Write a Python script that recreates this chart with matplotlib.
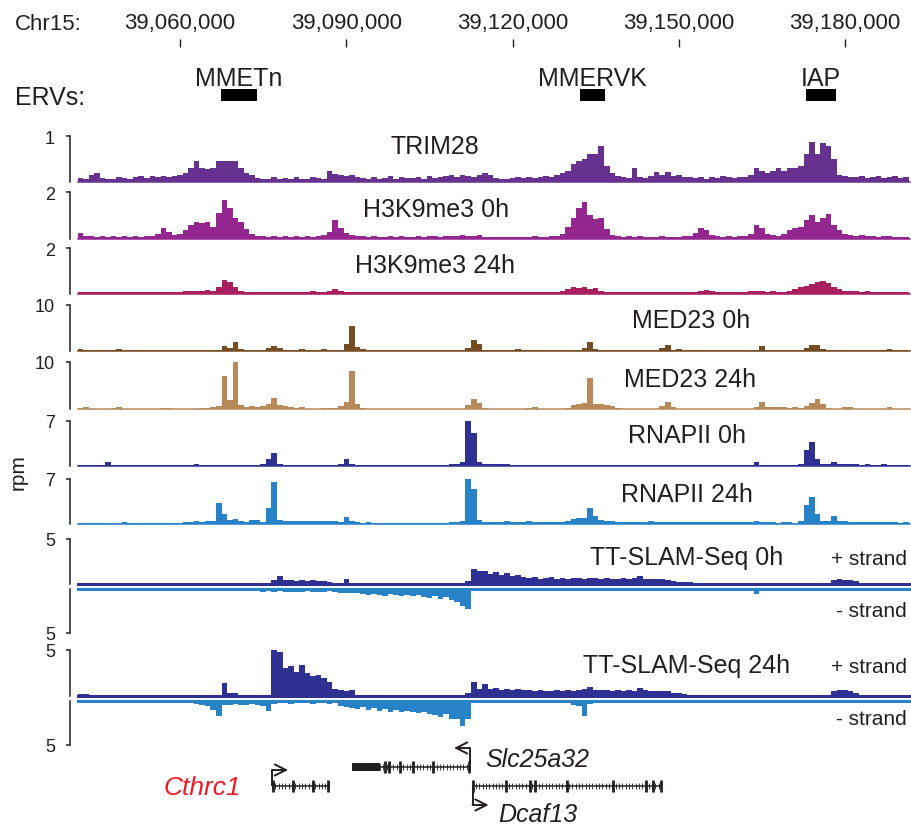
import matplotlib

matplotlib.use("Agg")
import matplotlib.pyplot as plt
import numpy as np

plt.rcParams["font.family"] = ["Liberation Sans", "DejaVu Sans"]

W, H = 911, 828
PX = 72 / 100  # points per pixel at dpi 100
TEXT = "#231f20"

# Chr15 window shown and the 1 kb signal bins
XLIM = (39_041_600, 39_191_700)
BIN_START = 39_041_500
BIN_SIZE = 1_000
COORD_TICKS = [39_060_000, 39_090_000, 39_120_000, 39_150_000, 39_180_000]

ERV_NAMES = ["MMETn", "MMERVK", "IAP"]
ERV_STARTS = [39_067_400, 39_132_200, 39_173_000]
ERV_ENDS = [39_073_900, 39_136_700, 39_178_400]

# signal in rpm, one value per 1 kb bin (150 bins)
TRIM28 = [
    .08, .06, .15, .2, .08, .07, .06, .1, .08, .06,
    .1, .12, .08, .13, .1, .12, .1, .12, .15, .2,
    .3, .45, .3, .28, .3, .45, .46, .45, .45, .3,
    .2, .15, .08, .07, .06, .1, .07, .08, .06, .1,
    .07, .06, .1, .08, .07, .25, .18, .15, .12, .15,
    .1, .08, .07, .1, .06, .08, .12, .07, .1, .08,
    .08, .1, .07, .12, .08, .1, .12, .15, .1, .15,
    .12, .1, .15, .2, .15, .08, .06, .07, .08, .1,
    .08, .1, .08, .1, .12, .1, .15, .2, .25, .4,
    .45, .5, .6, .6, .78, .35, .2, .12, .1, .08,
    .3, .1, .08, .12, .22, .15, .22, .12, .15, .1,
    .1, .08, .1, .07, .1, .08, .12, .1, .08, .1,
    .1, .15, .3, .25, .2, .25, .3, .25, .3, .3,
    .35, .6, .87, .6, .85, .78, .5, .15, .12, .1,
    .1, .12, .08, .1, .12, .08, .1, .12, .08, .1,
]
H3K9ME3_0H = [
    .25, .12, .1, .08, .1, .08, .1, .07, .1, .08,
    .1, .08, .12, .1, .2, .47, .3, .15, .2, .35,
    .6, .72, .65, .7, .5, 1.1, 1.65, 1.3, .9, .7,
    .4, .2, .12, .1, .08, .1, .08, .1, .08, .1,
    .08, .1, .08, .1, .15, .3, .8, .45, .25, .15,
    .12, .1, .08, .1, .08, .07, .1, .08, .1, .08,
    .08, .1, .07, .1, .12, .08, .1, .12, .1, .15,
    .12, .1, .15, .08, .07, .05, .06, .05, .08, .07,
    .06, .08, .1, .08, .07, .1, .12, .2, .5, .9,
    1.3, 1.55, 1.0, .85, .9, .4, .15, .1, .08, .1,
    .08, .1, .06, .08, .07, .1, .08, .06, .08, .1,
    .1, .25, .47, .35, .15, .1, .08, .1, .08, .1,
    .1, .2, .6, .45, .2, .15, .12, .2, .35, .45,
    .5, .8, 1.0, .7, .9, 1.05, .6, .35, .2, .15,
    .12, .15, .1, .12, .08, .1, .12, .08, .06, .05,
]
H3K9ME3_24H = [
    .08, .06, .05, .06, .05, .07, .05, .06, .05, .06,
    .05, .06, .05, .07, .06, .05, .08, .06, .07, .1,
    .12, .1, .12, .15, .12, .3, .58, .5, .3, .12,
    .08, .07, .06, .05, .06, .05, .06, .08, .06, .05,
    .06, .08, .1, .07, .08, .12, .2, .1, .08, .07,
    .06, .07, .05, .06, .05, .06, .07, .05, .06, .05,
    .06, .05, .07, .06, .05, .06, .05, .07, .06, .05,
    .06, .05, .07, .06, .05, .06, .05, .06, .05, .06,
    .05, .06, .07, .06, .05, .06, .08, .1, .2, .3,
    .25, .3, .2, .25, .1, .08, .06, .07, .05, .06,
    .05, .06, .07, .05, .06, .05, .06, .07, .05, .06,
    .06, .08, .12, .15, .1, .07, .06, .05, .06, .08,
    .08, .1, .12, .1, .08, .1, .08, .07, .1, .2,
    .3, .35, .4, .5, .55, .45, .3, .2, .12, .1,
    .1, .08, .1, .07, .08, .06, .07, .06, .05, .06,
]
MED23_0H = [
    .4, .1, .1, .1, .1, .1, .1, .4, .1, .1,
    .1, .1, .1, .1, .1, .1, .1, .1, .1, .1,
    .1, .1, .1, .1, .1, .15, 1.1, .6, 1.9, .3,
    .1, .1, .1, .2, .7, 1.1, .6, .1, .1, .1,
    .3, .1, .1, .1, .3, .1, .1, .2, 1.5, 5.3,
    .8, .3, .1, .1, .1, .1, .1, .1, .1, .1,
    .1, .1, .1, .1, .1, .1, .1, .1, .1, .1,
    .6, 2.3, 1.5, .2, .1, .1, .1, .1, .1, .3,
    .1, .1, .1, .1, .1, .1, .1, .1, .1, .1,
    .1, .5, 1.8, .4, .1, .1, .1, .1, .1, .1,
    .1, .1, .1, .1, .1, .5, 1.3, .2, .3, .1,
    .1, .1, .1, .1, .1, .1, .1, .1, .1, .1,
    .1, .1, .1, 1.0, .2, .1, .1, .1, .1, .1,
    .1, .5, 1.2, 1.2, .4, .1, .1, .1, .1, .1,
    .1, .1, .1, .1, .1, .1, .4, .1, .1, .1,
]
MED23_24H = [
    .3, .5, .1, .1, .1, .1, .2, .5, .1, .1,
    .1, .1, .1, .1, .1, .3, .3, .1, .1, .1,
    .1, .1, .2, .2, .5, .7, 7.0, 2.0, 10.0, .8,
    .5, .6, .5, .6, 1.0, 2.3, .8, .7, .5, .3,
    .4, .1, .1, .1, .3, .2, .3, .6, 1.5, 8.0,
    1.0, .2, .1, .1, .1, .1, .1, .1, .1, .1,
    .1, .1, .1, .1, .1, .1, .1, .1, .1, .1,
    .8, 2.2, 1.2, .3, .1, .1, .1, .1, .1, .1,
    .1, .2, .4, .1, .1, .1, .1, .1, .3, .8,
    1.0, 1.3, 6.7, 1.0, 1.0, .8, .6, .2, .1, .1,
    .1, .1, .1, .1, .1, .6, 1.5, .5, .1, .1,
    .1, .1, .1, .1, .1, .1, .1, .1, .1, .1,
    .1, .1, .4, 1.5, .5, .5, .4, .5, .3, .4,
    .2, .6, 1.2, 2.1, 1.0, .2, .1, .1, .4, .4,
    .1, .1, .1, .1, .1, .1, .4, .1, .1, .1,
]
RNAPII_0H = [
    .1, .08, .1, .05, .08, .5, .08, .1, .05, .08,
    .08, .1, .08, .05, .1, .08, .05, .1, .08, .1,
    .1, .3, .08, .1, .08, .1, .05, .08, .1, .08,
    .1, .08, .1, .2, 1.0, 1.9, .3, .1, .08, .1,
    .1, .08, .1, .15, .1, .08, .1, .2, 1.0, .3,
    .15, .1, .12, .15, .1, .12, .1, .15, .12, .1,
    .12, .1, .15, .12, .1, .12, .15, .2, .3, .5,
    7.0, 5.0, .5, .3, .3, .25, .3, .2, .15, .15,
    .15, .12, .15, .1, .12, .15, .1, .12, .15, .12,
    .15, .12, .1, .15, .12, .1, .15, .12, .1, .12,
    .12, .15, .1, .12, .1, .15, .12, .1, .12, .1,
    .12, .1, .15, .12, .1, .12, .1, .15, .12, .1,
    .12, .1, .5, .12, .1, .12, .1, .15, .12, .1,
    .3, 2.5, 3.6, 1.0, .3, .3, .6, .3, .2, .2,
    .2, .15, .2, .12, .15, .2, .12, .15, .1, .15,
]
RNAPII_24H = [
    .2, .1, .08, .1, .08, .1, .1, .1, .3, .1,
    .08, .1, .08, .1, .12, .08, .1, .15, .1, .3,
    .3, .4, .3, .5, .5, 3.3, 1.5, .6, .8, .5,
    .3, .6, .6, .3, 2.5, 6.6, .6, .4, .4, .5,
    .4, .5, .4, .5, .5, .4, .5, .3, 1.1, .4,
    .3, .2, .3, .15, .2, .15, .2, .15, .2, .15,
    .2, .15, .2, .2, .15, .2, .2, .3, .3, .5,
    7.0, 5.5, .6, .3, .3, .35, .3, .4, .3, .3,
    .3, .4, .3, .35, .3, .3, .35, .3, .5, .8,
    .9, 1.0, 2.5, 1.2, .6, .4, .4, .3, .35, .3,
    .3, .35, .3, .4, .3, .35, .3, .3, .35, .3,
    .3, .25, .3, .3, .25, .3, .25, .3, .25, .3,
    .25, .3, .4, .3, .25, .3, .2, .25, .3, .2,
    .5, 3.0, 4.2, 1.5, .4, .5, 1.2, .5, .4, .35,
    .3, .35, .3, .3, .25, .3, .25, .3, .2, .25,
]
SLAM_0H_PLUS = [
    0, 0, 0, 0, 0, 0, 0, 0, 0, 0,
    0, 0, 0, 0, 0, 0, 0, 0, 0, 0,
    0, 0, 0, 0, 0, 0, 0, 0, 0, 0,
    0, 0, 0, 0, 0, .5, .85, .5, .4, .3,
    .4, .3, .4, .3, .35, .2, .1, .05, .55, 0,
    0, 0, 0, 0, 0, 0, 0, 0, 0, 0,
    0, 0, 0, 0, 0, 0, 0, 0, 0, 0,
    .3, 1.7, 1.4, 1.5, 1.1, 1.3, 1.0, 1.2, .9, 1.0,
    .8, .7, .8, .6, .7, .75, .6, .7, .6, .65,
    .7, .6, .65, .7, .6, .65, .55, .6, .7, .6,
    .65, .9, .6, .55, .6, .55, .5, .3, .2, .25,
    .2, 0, 0, 0, 0, 0, 0, 0, 0, 0,
    0, 0, 0, 0, 0, 0, 0, 0, 0, 0,
    0, 0, 0, 0, 0, 0, .5, .6, .5, .4,
    .3, .1, 0, 0, 0, 0, 0, 0, 0, 0,
]
SLAM_0H_MINUS = [
    .05, .1, .05, .05, .1, .05, .05, .1, .05, .05,
    .05, .05, .05, .05, .05, .05, .05, .05, .05, .05,
    .05, .05, .05, .05, .2, .15, .2, .25, .2, .15,
    .2, .25, .2, .3, .2, .3, .25, .3, .35, .3,
    .3, .25, .3, .35, .3, .25, .3, .4, .5, .45,
    .5, .6, .7, .55, .65, .75, .6, .7, .8, .7,
    .8, .7, .9, 1.0, .8, 1.1, .9, 1.2, 1.5, 1.9,
    2.3, .05, .1, .05, .05, .05, .1, .05, .05, .05,
    .05, .05, .05, .05, .05, .05, .05, .05, .05, .05,
    .05, .05, .05, .05, .05, .05, .05, .05, .05, .05,
    .05, .05, .05, .05, .05, .05, .05, .05, .05, .05,
    .05, .05, .05, .05, .05, .05, .05, .05, .05, .05,
    .05, .05, .6, .05, .05, .05, .05, .05, .05, .05,
    .05, .05, .05, .05, .05, .05, .05, .05, .05, .05,
    .05, .05, .05, .05, .05, .05, .05, .05, .05, .05,
]
SLAM_24H_PLUS = [
    .2, .2, 0, 0, 0, 0, 0, 0, 0, 0,
    0, 0, 0, 0, 0, 0, 0, 0, 0, 0,
    0, 0, 0, 0, 0, 0, 1.4, .3, .3, 0,
    0, 0, 0, 0, 0, 5.0, 4.8, 3.0, 3.3, 2.6,
    3.4, 2.5, 2.2, 2.3, 2.0, 1.5, .8, .6, .5, .7,
    0, 0, 0, 0, 0, 0, 0, 0, 0, 0,
    0, 0, 0, 0, 0, 0, 0, 0, 0, 0,
    .3, 1.5, .8, 1.3, .8, .9, .7, .8, .7, .75,
    .6, .7, .55, .6, .5, .55, .6, .5, .6, .55,
    .6, .8, 1.0, .7, .6, .65, .55, .6, .5, .6,
    .55, .9, .6, .55, .5, .55, .5, .3, .3, .25,
    0, 0, 0, 0, 0, 0, 0, 0, 0, 0,
    0, 0, 0, 0, 0, 0, 0, 0, 0, 0,
    0, 0, 0, 0, 0, 0, .5, .7, .6, .5,
    .3, 0, 0, 0, 0, 0, 0, 0, 0, 0,
]
SLAM_24H_MINUS = [
    .1, .05, .1, .05, .05, .1, .05, .05, .1, .05,
    .05, .05, .05, .05, .05, .05, .05, .05, .05, .05,
    .1, .3, .5, .6, 1.0, 1.7, .5, .5, .3, .4,
    .5, .3, .4, .6, 1.1, .3, .25, .2, .3, .2,
    .25, .2, .3, .25, .2, .3, .25, .6, .7, .8,
    .9, .7, 1.0, .8, 1.1, .9, 1.2, 1.0, 1.3, 1.1,
    1.2, 1.4, 1.3, 1.5, 1.6, 1.8, 1.5, 2.0, 2.1, 2.8,
    2.0, .05, .1, .05, .05, .05, .05, .05, .05, .05,
    .05, .05, .05, .05, .05, .05, .05, .05, .05, .4,
    .6, 1.7, .3, .05, .05, .05, .05, .05, .05, .05,
    .05, .05, .05, .05, .05, .05, .05, .05, .05, .05,
    .05, .05, .05, .05, .05, .05, .05, .05, .05, .05,
    .05, .05, .05, .05, .05, .05, .05, .05, .05, .05,
    .2, .05, .05, .05, .05, .05, .05, .05, .05, .05,
    .05, .05, .05, .05, .05, .05, .05, .05, .05, .05,
]

# gene models
GENE_NAMES = ["Cthrc1", "Slc25a32", "Dcaf13"]
GENE_STRANDS = ["+", "-", "+"]
GENE_STARTS = [39_076_600, 39_096_090, 39_112_780]
GENE_ENDS = [39_086_890, 39_112_330, 39_146_800]
GENE_EXONS = [
    [39_076_690, 39_080_390, 39_084_000, 39_086_620],
    [39_096_990, 39_097_710, 39_099_700, 39_102_040, 39_105_650, 39_112_060],
    [39_112_870, 39_118_830, 39_123_160, 39_124_060, 39_129_830, 39_138_040,
     39_144_090, 39_145_350, 39_146_700],
]
UTR_BLOCKS = [None, (39_091_040, 39_096_090), None]

PURPLE, MAGENTA, CRIMSON = "#66318f", "#93278f", "#a81e5f"
BROWN, TAN = "#754c24", "#b88a5a"
NAVY, BLUE = "#2e3192", "#2782c8"


def axes_px(fig, left, top, right, bottom):
    return fig.add_axes([left / W, 1 - bottom / H, (right - left) / W, (bottom - top) / H])


def fig_text(fig, x, y, s, **kw):
    kw.setdefault("color", TEXT)
    return fig.text(x / W, 1 - y / H, s, **kw)


def signal_track(ax, values, color, ymax, minus=False, base_lw=1.1):
    edges = BIN_START + BIN_SIZE * np.arange(len(values) + 1)
    vals = np.asarray(values, dtype=float)
    if minus:
        vals = -vals
    ax.stairs(vals, edges, fill=True, color=color, linewidth=0, baseline=0)
    ax.axhline(0, color=color, lw=base_lw, clip_on=False)
    ax.set_xlim(*XLIM)
    ax.set_ylim((-ymax, 0) if minus else (0, ymax))
    for side in ("top", "right", "bottom"):
        ax.spines[side].set_visible(False)
    sp = ax.spines["left"]
    sp.set_position(("outward", 8 * PX))
    sp.set_bounds(*ax.get_ylim())
    sp.set_linewidth(1.1)
    sp.set_color(TEXT)
    ax.set_xticks([])
    ax.set_yticks([-ymax if minus else ymax], [f"{ymax:g}"])
    ax.tick_params(axis="y", length=4 * PX, width=1.1, pad=8, labelsize=13,
                   color=TEXT, labelcolor=TEXT)
    ax.patch.set_visible(False)


fig = plt.figure(figsize=(W / 100, H / 100), dpi=100)

# (label, data, color, ymax, top px, bottom px, label x, label baseline)
tracks = [
    ("TRIM28", TRIM28, PURPLE, 1, 137, 183, 435, 154),
    ("H3K9me3 0h", H3K9ME3_0H, MAGENTA, 2, 193, 239.5, 436, 217),
    ("H3K9me3 24h", H3K9ME3_24H, CRIMSON, 2, 249, 294.5, 435, 273),
    ("MED23 0h", MED23_0H, BROWN, 10, 306, 351.7, 691, 328),
    ("MED23 24h", MED23_24H, TAN, 10, 363, 410, 690, 387),
    ("RNAPII 0h", RNAPII_0H, NAVY, 7, 421.5, 466.7, 687, 443),
    ("RNAPII 24h", RNAPII_24H, BLUE, 7, 480, 525, 687, 502),
]
for label, data, color, ymax, top, bottom, lx, ly in tracks:
    ax = axes_px(fig, 78, top, 910, bottom)
    signal_track(ax, data, color, ymax)
    fig_text(fig, lx, ly, label, ha="center", va="baseline", fontsize=18)

# TT-SLAM-Seq: stranded tracks, + up and - down
slam = [
    ("TT-SLAM-Seq 0h", SLAM_0H_PLUS, SLAM_0H_MINUS, (540, 585, 590, 634), 565, 617),
    ("TT-SLAM-Seq 24h", SLAM_24H_PLUS, SLAM_24H_MINUS, (651, 697, 702, 746), 673, 725),
]
for label, plus, minus, (t1, b1, t2, b2), ply, mly in slam:
    ax_p = axes_px(fig, 78, t1, 910, b1)
    signal_track(ax_p, plus, NAVY, 5, base_lw=2.2)
    ax_m = axes_px(fig, 78, t2, 910, b2)
    signal_track(ax_m, minus, BLUE, 5, minus=True, base_lw=2.2)
    fig_text(fig, 687, ply, label, ha="center", va="baseline", fontsize=18)
    fig_text(fig, 907, ply, "+ strand", ha="right", va="baseline", fontsize=15)
    fig_text(fig, 907, mly, "- strand", ha="right", va="baseline", fontsize=15)

fig_text(fig, 18, 472, "rpm", rotation=90, ha="center", va="center", fontsize=15)

# coordinate ruler and ERV annotation
hax = axes_px(fig, 78, 48, 910, 106)
hax.set_xlim(*XLIM)
hax.set_ylim(106, 48)
for sp in hax.spines.values():
    sp.set_visible(False)
hax.xaxis.tick_top()
hax.set_xticks(COORD_TICKS, [f"{t:,}" for t in COORD_TICKS])
hax.tick_params(axis="x", length=8 * PX, width=1.0, pad=4, labelsize=16,
                color=TEXT, labelcolor=TEXT)
hax.set_yticks([])
hax.patch.set_visible(False)
hax.barh(96, [e - s for s, e in zip(ERV_STARTS, ERV_ENDS)], left=ERV_STARTS,
         height=12, color="black")
for name, s, e in zip(ERV_NAMES, ERV_STARTS, ERV_ENDS):
    hax.text((s + e) / 2, 86, name, ha="center", va="baseline", fontsize=18, color=TEXT)
fig_text(fig, 15, 30, "Chr15:", ha="left", va="baseline", fontsize=16)
fig_text(fig, 15, 105, "ERVs:", ha="left", va="baseline", fontsize=18)

# gene models (y in pixels)
gax = axes_px(fig, 78, 740, 910, 828)
gax.set_xlim(*XLIM)
gax.set_ylim(828, 740)
gax.axis("off")
row_y = [787, 768, 787]
arrow_y = [771, 749, 806]
arrow_len = 2_900
for name, strand, start, end, exons, utr, y, ay in zip(
        GENE_NAMES, GENE_STRANDS, GENE_STARTS, GENE_ENDS, GENE_EXONS, UTR_BLOCKS, row_y, arrow_y):
    gax.hlines(y, start, end, color=TEXT, lw=1.1)
    gax.vlines(np.arange(start, end, 600), y - 3, y + 3, color=TEXT, lw=0.6)
    gax.vlines(exons, y - 6, y + 6, color=TEXT, lw=2.0)
    if utr is not None:
        gax.barh(y, utr[1] - utr[0], left=utr[0], height=8, color=TEXT)
    tss = start if strand == "+" else end
    direction = 1 if strand == "+" else -1
    gax.plot([tss, tss], [y, ay], color=TEXT, lw=1.4, solid_capstyle="butt")
    gax.annotate("", xy=(tss + direction * arrow_len, ay), xytext=(tss, ay),
                 arrowprops=dict(arrowstyle="->", lw=1.4, color=TEXT,
                                 mutation_scale=20, shrinkA=0, shrinkB=0))

fig_text(fig, 164, 795, "Cthrc1", ha="left", va="baseline", fontsize=19,
         style="italic", color="#ed1c24")
fig_text(fig, 485, 767, "Slc25a32", ha="left", va="baseline", fontsize=18, style="italic")
fig_text(fig, 498, 822, "Dcaf13", ha="left", va="baseline", fontsize=18, style="italic")

fig.savefig("out.png", dpi=100, facecolor="white")
